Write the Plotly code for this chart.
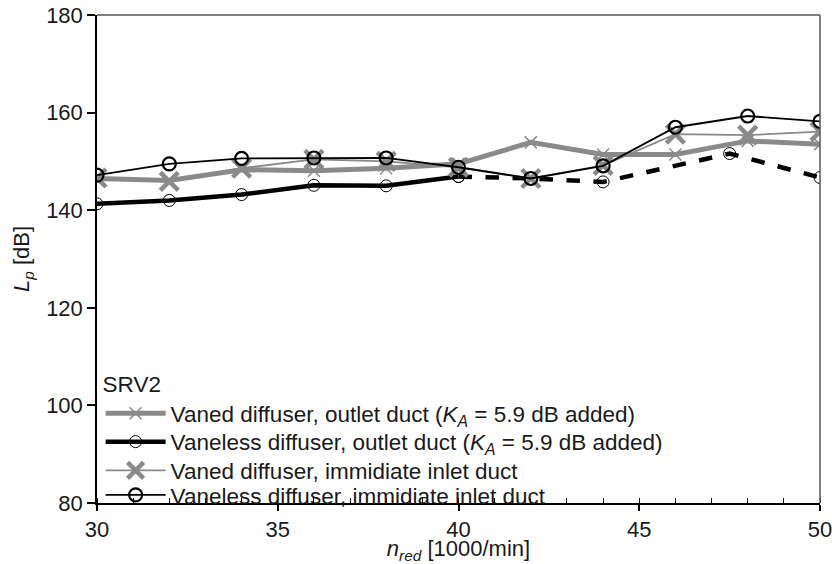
import plotly.graph_objects as go

# x positions (n_red in 1000/min)
x_std = [30, 32, 34, 36, 38, 40, 42, 44, 46, 48, 50]
x_vaneless_out_solid = [30, 32, 34, 36, 38, 40]
x_vaneless_out_dash = [40, 42, 44, 47.5, 50]

# Series values Lp [dB]
vaned_outlet = [146.5, 146.1, 148.3, 148.1, 148.6, 149.5, 153.9, 151.4, 151.4, 154.2, 153.5]
vaneless_outlet_solid = [141.3, 142.0, 143.2, 145.1, 145.0, 146.9]
vaneless_outlet_dash = [146.9, 146.5, 145.8, 151.6, 146.7]
vaned_inlet = [146.6, 145.9, 148.6, 150.4, 150.0, 148.8, 146.5, 149.2, 155.6, 155.4, 156.1]
vaneless_inlet = [147.2, 149.5, 150.6, 150.7, 150.7, 148.8, 146.5, 149.1, 157.0, 159.3, 158.2]

names = [
    "Vaned diffuser, outlet duct (<i>K<sub>A</sub></i> = 5.9 dB added)",
    "Vaneless diffuser, outlet duct (<i>K<sub>A</sub></i> = 5.9 dB added)",
    "Vaned diffuser, immidiate inlet duct",
    "Vaneless diffuser, immidiate inlet duct",
]

GRAY = "#8a8a8a"
BLACK = "#000000"

fig = go.Figure()
fig.add_trace(go.Scatter(
    x=x_std, y=vaned_outlet, name=names[0], mode="lines+markers", legend="legend",
    line=dict(color=GRAY, width=5),
    marker=dict(symbol="x-thin", size=12, line=dict(color=GRAY, width=1.5)),
))
fig.add_trace(go.Scatter(
    x=x_vaneless_out_solid, y=vaneless_outlet_solid, name=names[1], mode="lines+markers",
    line=dict(color=BLACK, width=4.5), legend="legend2",
    marker=dict(symbol="circle-open", size=12, color=BLACK, line=dict(width=1)),
))
fig.add_trace(go.Scatter(
    x=x_vaneless_out_dash, y=vaneless_outlet_dash, name=names[1], mode="lines+markers",
    line=dict(color=BLACK, width=4.5, dash="dash"), legend="legend2", showlegend=False,
    marker=dict(symbol="circle-open", size=12, color=BLACK, line=dict(width=1)),
))
fig.add_trace(go.Scatter(
    x=x_std, y=vaned_inlet, name=names[2], mode="lines+markers", legend="legend3",
    line=dict(color=GRAY, width=1.8),
    marker=dict(symbol="x-thin", size=18, line=dict(color=GRAY, width=4.5)),
))
fig.add_trace(go.Scatter(
    x=x_std, y=vaneless_inlet, name=names[3], mode="lines+markers", legend="legend4",
    line=dict(color=BLACK, width=1.8),
    marker=dict(symbol="circle-open", size=13, color=BLACK, line=dict(width=2.2)),
))

FONT = "Liberation Sans, Arial, sans-serif"
LFONT = dict(size=22.5)


def leg(y, anchor="middle", title=None):
    d = dict(x=0.005, y=y, xanchor="left", yanchor=anchor, bgcolor="rgba(0,0,0,0)",
             font=LFONT, itemwidth=60, tracegroupgap=0)
    if title:
        d["title"] = dict(text=title, font=LFONT)
    return d


fig.update_layout(
    width=832, height=564,
    margin=dict(l=97, r=12, t=15, b=61, autoexpand=False),
    paper_bgcolor="white", plot_bgcolor="white",
    font=dict(family=FONT, size=22, color="#1a1a1a"),
    showlegend=True,
    legend=leg(0.287, "top", "SRV2"),
    legend2=leg(0.125),
    legend3=leg(0.066),
    legend4=leg(0.016),
    xaxis=dict(
        range=[30, 50], tickvals=[30, 35, 40, 45, 50], automargin=False,
        ticklabeloverflow="allow",
        showgrid=False, zeroline=False,
        showline=True, linecolor="black", linewidth=1.5, mirror=False,
        ticks="outside", ticklen=6, tickwidth=1.5, tickcolor="black",
        minor=dict(dtick=1, ticks="inside", ticklen=5, tickwidth=1.2, tickcolor="black", showgrid=False),
        tickfont=dict(size=22),
        title=dict(text="<i>n<sub>red</sub></i> [1000/min]", font=dict(size=22), standoff=5),
    ),
    yaxis=dict(
        range=[80, 180], tickvals=[80, 100, 120, 140, 160, 180], automargin=False,
        ticklabeloverflow="allow",
        showgrid=False, zeroline=False,
        showline=True, linecolor="black", linewidth=1.5, mirror=False,
        ticks="outside", ticklen=8, tickwidth=1.5, tickcolor="black",
        tickfont=dict(size=22),
        title=dict(text="<i>L<sub>p</sub></i> [dB]", font=dict(size=22), standoff=10),
    ),
    shapes=[
        dict(type="line", xref="paper", yref="paper", x0=0, x1=1, y0=1, y1=1,
             line=dict(color="#555555", width=1.5)),
        dict(type="line", xref="paper", yref="paper", x0=1, x1=1, y0=0, y1=1,
             line=dict(color="#555555", width=1.5)),
    ],
)

fig.write_html("out.html")
